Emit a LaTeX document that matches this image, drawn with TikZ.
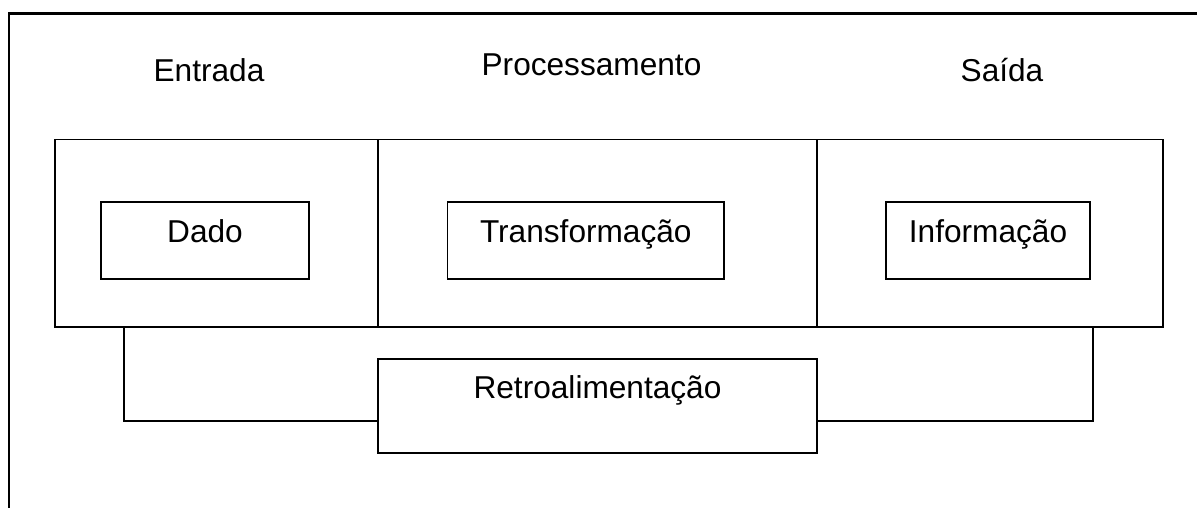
\documentclass[tikz,border=0pt]{standalone}
\usepackage{fontspec}
\setmainfont{Liberation Sans}
\usepackage{tikz}
\usetikzlibrary{positioning}

\tikzset{
	column/.style={draw, line width=0.9pt, inner sep=0pt, outer sep=0pt, anchor=north west},
	stagebox/.style={draw, line width=0.9pt, inner sep=0pt, outer sep=0pt, minimum height=1.54cm, text height=10pt, text depth=8pt},
	heading/.style={anchor=base}
}

\begin{document}
\begin{tikzpicture}[x=0.02cm, y=-0.02cm, every node/.style={font=\fontsize{18}{21.6}\selectfont}]
	\useasboundingbox (0,0) rectangle (1197,508);
	% frame
	\draw [line width=1.3pt] (1197,13.5) -- (9,13.5) -- (9,508);
	% headings
	\node [heading] (hin) at (209,81) {Entrada};
	\node [heading] (hproc) at (591.5,75) {Processamento};
	\node [heading] (hout) at (1002,81) {Saída};
	% columns
	\node [column, minimum width=6.46cm, minimum height=3.75cm] (col1) at (55,139.5) {};
	\node [column, minimum width=8.78cm, minimum height=3.75cm] (col2) at (col1.north east) {};
	\node [column, minimum width=6.92cm, minimum height=3.75cm] (col3) at (col2.north east) {};
	% stages
	\node [stagebox, minimum width=4.16cm] (dado) at (205,240.5) {Dado};
	\node [stagebox, minimum width=5.54cm] (transf) at (585.8,240.5) {Transformação};
	\node [stagebox, minimum width=4.08cm] (info) at (988,240.5) {Informação};
	\node [stagebox, minimum width=8.78cm, minimum height=1.88cm, text height=6pt, text depth=15pt] (retro) at (597.5,406) {Retroalimentação};
	% feedback
	\coordinate (fbL) at (124,421);
	\coordinate (fbR) at (1093,421);
	\draw [line width=0.9pt] (fbL |- col1.south) -- (fbL) -- (fbL -| retro.west);
	\draw [line width=0.9pt] (fbR -| retro.east) -- (fbR) -- (fbR |- col3.south);
\end{tikzpicture}
\end{document}
